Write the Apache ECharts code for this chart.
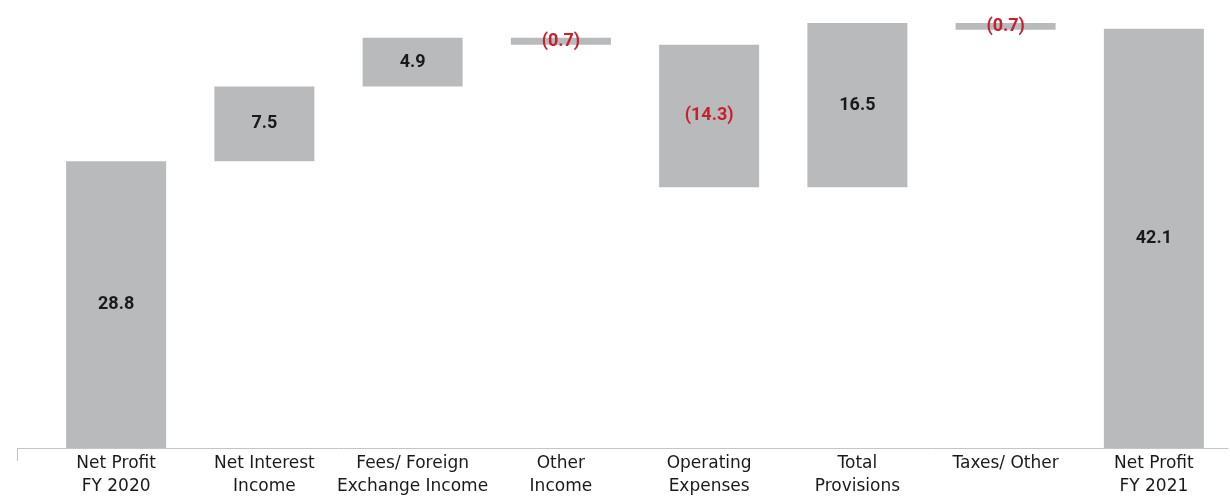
<!DOCTYPE html>
<html>
<head>
<meta charset="utf-8">
<script src="https://cdn.jsdelivr.net/npm/echarts@6/dist/echarts.min.js"></script>
<style>
  html, body { margin: 0; padding: 0; background: #ffffff; }
  #chart { width: 1230px; height: 496px; }
</style>
</head>
<body>
<div id="chart"></div>
<script>
// Net profit bridge, FY 2020 -> FY 2021
const categories = [
  'Net Profit\nFY 2020',
  'Net Interest\nIncome',
  'Fees/ Foreign\nExchange Income',
  'Other\nIncome',
  'Operating\nExpenses',
  'Total\nProvisions',
  'Taxes/ Other',
  'Net Profit\nFY 2021'
];
const values = [28.8, 7.5, 4.9, -0.7, -14.3, 16.5, -0.7, 42.1];
const isTotal = [true, false, false, false, false, false, false, true];

// Floating bars: invisible base + visible segment
const baseData = [];
const barData = [];
let running = 0;
values.forEach((v, i) => {
  if (isTotal[i]) {
    baseData.push(0);
    barData.push({ value: v, raw: v });
    running = v;
  } else if (v >= 0) {
    baseData.push(running);
    barData.push({ value: v, raw: v });
    running += v;
  } else {
    running += v;
    baseData.push(running);
    barData.push({ value: -v, raw: v });
  }
});

const fmt = (v) => v < 0 ? '{neg|(' + Math.abs(v).toFixed(1) + ')}' : '{pos|' + v.toFixed(1) + '}';
const LABEL_FONT = 'Roboto';
const AXIS_FONT = 'DejaVu Sans';

const chart = echarts.init(document.getElementById('chart'), null, { renderer: 'canvas' });
chart.setOption({
  animation: false,
  grid: { left: 42, right: 2, top: 0, bottom: 48, outerBoundsMode: 'none' },
  xAxis: {
    type: 'category',
    data: categories,
    axisLine: { show: true, lineStyle: { color: '#c4c4c4', width: 1 } },
    axisTick: { show: false },
    axisLabel: {
      interval: 0,
      color: '#1a1a1a',
      fontFamily: AXIS_FONT,
      fontSize: 17,
      lineHeight: 23,
      margin: 4
    }
  },
  yAxis: {
    type: 'value',
    min: 0,
    max: 45,
    show: false,
    splitLine: { show: false }
  },
  series: [
    {
      type: 'bar',
      stack: 'wf',
      data: baseData,
      itemStyle: { color: 'transparent' },
      barWidth: 100,
      silent: true
    },
    {
      type: 'bar',
      stack: 'wf',
      data: barData,
      barWidth: 100,
      itemStyle: { color: '#b9babc' },
      label: {
        show: true,
        position: 'inside',
        formatter: (p) => fmt(p.data.raw),
        rich: {
          pos: { color: '#1a1a1a', fontFamily: LABEL_FONT, fontSize: 18, fontWeight: 'bold' },
          neg: { color: '#c8202f', fontFamily: LABEL_FONT, fontSize: 18, fontWeight: 'bold' }
        }
      }
    }
  ],
  graphic: [
    {
      type: 'line',
      shape: { x1: 17, y1: 448.5, x2: 42, y2: 448.5 },
      style: { stroke: '#c4c4c4', lineWidth: 1 }
    },
    {
      type: 'line',
      shape: { x1: 17.5, y1: 448, x2: 17.5, y2: 461 },
      style: { stroke: '#c4c4c4', lineWidth: 1 }
    }
  ]
});
</script>
</body>
</html>
